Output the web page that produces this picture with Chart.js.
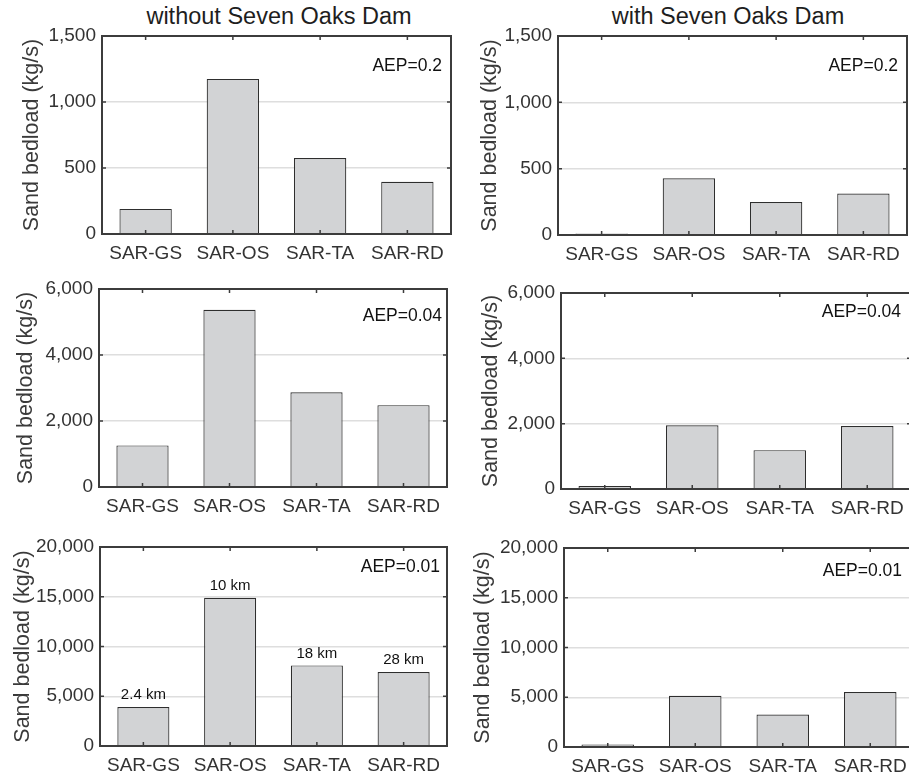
<!DOCTYPE html>
<html>
<head>
<meta charset="utf-8">
<script src="https://cdn.jsdelivr.net/npm/chart.js@4.4.1/dist/chart.umd.min.js"></script>
<style>
  html, body { margin: 0; padding: 0; background: #fff; }
  body { width: 909px; height: 781px; overflow: hidden; position: relative;
         font-family: "Liberation Sans", Arial, sans-serif; }
  .coltitle { position: absolute; top: 5px; font-size: 23.5px; line-height: 23.5px; color: #1e1e1e;
              white-space: nowrap; transform: translateX(-50%); }
  canvas { position: absolute; }
</style>
</head>
<body>
<div class="coltitle" style="left:279px">without Seven Oaks Dam</div>
<div class="coltitle" style="left:728px">with Seven Oaks Dam</div>

<script>
// Gauging sites along the Santa Ana River
const sites = ['SAR-GS', 'SAR-OS', 'SAR-TA', 'SAR-RD'];
const distances = ['2.4 km', '10 km', '18 km', '28 km'];

// Peak sand bedload (kg/s) by annual exceedance probability
const withoutDam02  = [190, 1175, 575, 395];
const withDam02     = [12, 428, 248, 313];
const withoutDam004 = [1260, 5370, 2870, 2480];
const withDam004    = [90, 1950, 1190, 1930];
const withoutDam001 = [3920, 14900, 8100, 7440];
const withDam001    = [250, 5150, 3260, 5520];

const aepLabels = ['AEP=0.2', 'AEP=0.04', 'AEP=0.01'];
const yMax  = [1500, 6000, 20000];
const yStep = [500, 2000, 5000];

const FONT = '"Liberation Sans", Arial, sans-serif';

// Panel frames in page pixels: plot box, y-title centre, AEP label anchor
const panels = [
  { data: withoutDam02,  row: 0, cx: 0,   cy: 0,   l: 102, r: 451, t: 36,  b: 234, ytx: 32,  ax: 442, ay: 66 },
  { data: withDam02,     row: 0, cx: 455, cy: 0,   l: 558, r: 907, t: 36,  b: 235, ytx: 490, ax: 898, ay: 66 },
  { data: withoutDam004, row: 1, cx: 0,   cy: 265, l: 99,  r: 447, t: 289, b: 487, ytx: 26,  ax: 442, ay: 316 },
  { data: withDam004,    row: 1, cx: 455, cy: 265, l: 561, r: 911, t: 293, b: 489, ytx: 491, ax: 901, ay: 312 },
  { data: withoutDam001, row: 2, cx: 0,   cy: 520, l: 100, r: 447, t: 547, b: 746, ytx: 23,  ax: 440, ay: 567, km: true },
  { data: withDam001,    row: 2, cx: 455, cy: 520, l: 564, r: 914, t: 548, b: 747, ytx: 483, ax: 902, ay: 571 }
];

// Box frame, inward tick marks, AEP tag and distance labels
const panelDecor = {
  id: 'panelDecor',
  afterDatasetsDraw(chart, args, opts) {
    const { ctx, chartArea: a, scales: { x, y } } = chart;
    ctx.save();
    ctx.strokeStyle = '#3c3c3c';
    ctx.lineWidth = 1.5;
    const tl = 4;
    ctx.beginPath();
    x.ticks.forEach((t, i) => {
      const px = x.getPixelForTick(i);
      ctx.moveTo(px, a.top); ctx.lineTo(px, a.top + tl);
      ctx.moveTo(px, a.bottom); ctx.lineTo(px, a.bottom - tl);
    });
    y.ticks.forEach((t, i) => {
      const py = y.getPixelForTick(i);
      ctx.moveTo(a.left, py); ctx.lineTo(a.left + tl, py);
      ctx.moveTo(a.right, py); ctx.lineTo(a.right - tl, py);
    });
    ctx.stroke();
    ctx.lineWidth = 2;
    ctx.strokeRect(a.left, a.top, a.right - a.left, a.bottom - a.top);

    ctx.fillStyle = '#111';
    ctx.font = '17.5px ' + FONT;
    ctx.textAlign = 'right';
    ctx.textBaseline = 'middle';
    ctx.fillText(opts.aep, opts.ax, opts.ay);

    if (opts.labels) {
      const meta = chart.getDatasetMeta(0);
      ctx.font = '15px ' + FONT;
      ctx.textAlign = 'center';
      meta.data.forEach((bar, i) => ctx.fillText(opts.labels[i], bar.x, bar.y - 12));
    }
    ctx.restore();
  }
};

panels.forEach((p) => {
  const canvas = document.createElement('canvas');
  const xH = 34;
  const cw = 470;
  const ch = p.b - p.cy + xH;
  canvas.width = cw; canvas.height = ch;
  canvas.style.left = p.cx + 'px';
  canvas.style.top = p.cy + 'px';
  canvas.style.width = cw + 'px';
  canvas.style.height = ch + 'px';
  document.body.appendChild(canvas);

  const yW = p.l - p.cx;
  const titleSize = 21.5;
  const titlePad = p.ytx - p.cx - titleSize * 1.2 / 2;

  new Chart(canvas, {
    type: 'bar',
    data: {
      labels: sites,
      datasets: [{
        data: p.data,
        backgroundColor: '#d2d3d5',
        borderColor: '#2e2e2e',
        borderWidth: 1.2,
        barPercentage: 0.6,
        categoryPercentage: 1.0
      }]
    },
    options: {
      responsive: false,
      animation: false,
      devicePixelRatio: 1,
      layout: { padding: { left: 0, top: p.t - p.cy, right: p.cx + cw - p.r, bottom: 0 } },
      plugins: {
        legend: { display: false },
        tooltip: { enabled: false },
        panelDecor: {
          aep: aepLabels[p.row],
          ax: p.ax - p.cx,
          ay: p.ay - p.cy,
          labels: p.km ? distances : null
        }
      },
      scales: {
        x: {
          type: 'category',
          offset: true,
          grid: { display: false, drawTicks: false },
          border: { display: false },
          ticks: { color: '#333', font: { size: 19, family: FONT }, padding: 8,
                   maxRotation: 0, autoSkip: false },
          afterFit: (s) => { s.height = xH; }
        },
        y: {
          min: 0,
          max: yMax[p.row],
          grid: { color: '#dedede', lineWidth: 1.5, drawTicks: false },
          border: { display: false },
          ticks: { stepSize: yStep[p.row], color: '#333', padding: 6,
                   font: { size: 19, family: FONT },
                   callback: (v) => v.toLocaleString('en-US') },
          title: { display: true, text: 'Sand bedload (kg/s)', color: '#3a3a3a',
                   font: { size: titleSize, family: FONT },
                   padding: { top: titlePad, bottom: 0 } },
          afterFit: (s) => { s.width = yW; }
        }
      }
    },
    plugins: [panelDecor]
  });
});
</script>
</body>
</html>
